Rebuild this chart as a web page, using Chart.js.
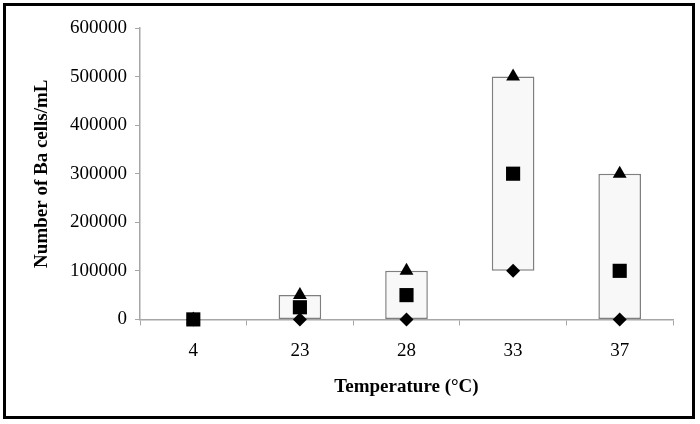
<!DOCTYPE html>
<html>
<head>
<meta charset="utf-8">
<script src="https://cdn.jsdelivr.net/npm/chart.js@4"></script>
<style>
  body { margin: 0; background: #fff; }
  #wrap { position: absolute; left: 0; top: 0; width: 700px; height: 424px; }
  #frame {
    position: absolute; left: 3px; top: 3px; width: 692px; height: 416px;
    border: 3px solid #000; box-sizing: border-box; pointer-events: none;
  }
</style>
</head>
<body>
<div id="wrap"><canvas id="chart" width="700" height="424"></canvas></div>
<div id="frame"></div>
<script>
// temperatures (°C) and cell counts
const categories = ['4', '23', '28', '33', '37'];
const maxVals = [0, 50000, 100000, 500000, 300000];
const midVals = [0, 25000, 50000, 300000, 100000];
const minVals = [0, 0, 0, 100000, 0];
const yTicks = [0, 100000, 200000, 300000, 400000, 500000, 600000];

const serif = "'Liberation Serif', 'Times New Roman', serif";
const axisGrey = '#a6a6a6';

// floating box from min to max, nothing drawn at 4 °C
const ranges = categories.map((c, i) => (maxVals[i] > minVals[i] ? [minVals[i], maxVals[i]] : null));

const markerSet = (label, data, style, radius, order) => ({
  type: 'line',
  label,
  data,
  showLine: false,
  pointStyle: style,
  pointRadius: radius,
  pointHoverRadius: radius,
  pointBackgroundColor: '#000',
  pointBorderColor: '#000',
  pointBorderWidth: 0,
  clip: false,
  order
});

new Chart(document.getElementById('chart'), {
  type: 'bar',
  data: {
    labels: categories,
    datasets: [
      markerSet('Mean', midVals, 'rect', 10, 1),
      markerSet('Max', maxVals, 'triangle', 8, 2),
      markerSet('Min', minVals, 'rectRot', 7, 3),
      {
        type: 'bar',
        label: 'Range',
        data: ranges,
        backgroundColor: '#f8f8f8',
        borderColor: '#7f7f7f',
        borderWidth: 1.5,
        borderSkipped: false,
        barPercentage: 0.4,
        categoryPercentage: 1,
        order: 10
      }
    ]
  },
  options: {
    responsive: false,
    animation: false,
    layout: { padding: { left: 31, right: 27, top: 28, bottom: 26 } },
    plugins: {
      legend: { display: false },
      tooltip: { enabled: false }
    },
    scales: {
      x: {
        grid: {
          display: true,
          offset: true,
          drawOnChartArea: false,
          drawTicks: true,
          tickLength: 6,
          color: axisGrey
        },
        border: { color: axisGrey, width: 1.5 },
        ticks: {
          color: '#000',
          padding: 14,
          font: { family: serif, size: 19 }
        },
        title: {
          display: true,
          text: 'Temperature (°C)',
          color: '#000',
          padding: 0,
          font: { family: serif, size: 19, weight: 'bold' }
        },
        afterFit: (scale) => { scale.height = 78.6; }
      },
      y: {
        min: 0,
        max: 600000,
        afterBuildTicks: (scale) => { scale.ticks = yTicks.map(v => ({ value: v })); },
        grid: {
          display: true,
          drawOnChartArea: false,
          drawTicks: true,
          tickLength: 5,
          color: axisGrey
        },
        border: { color: axisGrey, width: 1.5 },
        ticks: {
          color: '#000',
          padding: 8,
          font: { family: serif, size: 19 },
          callback: (v) => String(v)
        },
        title: {
          display: true,
          text: 'Number of Ba cells/mL',
          color: '#000',
          padding: 0,
          font: { family: serif, size: 19, weight: 'bold' }
        },
        afterFit: (scale) => { scale.width = 109; }
      }
    }
  }
});
</script>
</body>
</html>
